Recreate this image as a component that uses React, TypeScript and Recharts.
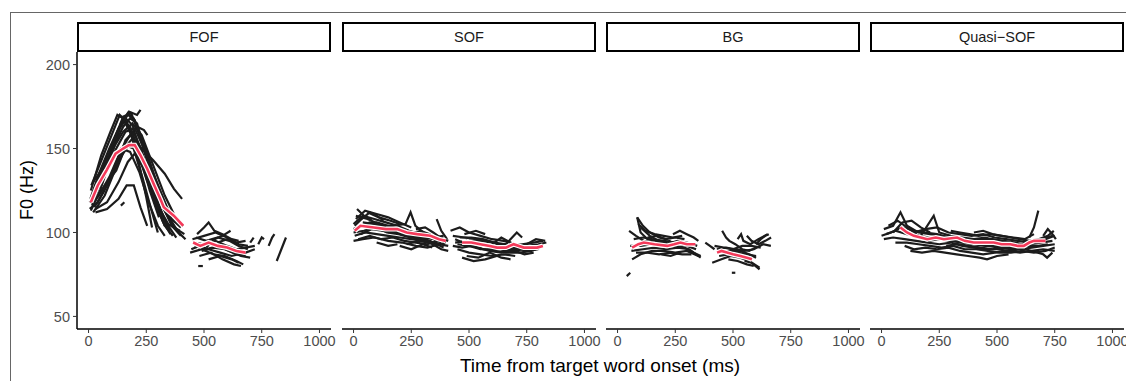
import React from 'react';
import { LineChart, Line, XAxis, YAxis } from 'recharts';

type Pt = [number, number];

// individual F0 contours, [time ms, F0 Hz]
const FOF_LINES: Pt[][] = [
  [[10, 113], [50, 125], [100, 146], [140, 164], [170, 171], [200, 167], [240, 150], [290, 128], [340, 111], [390, 100], [420, 96]],
  [[15, 116], [60, 133], [110, 155], [150, 169], [185, 171], [215, 160], [260, 140], [310, 119], [360, 104], [400, 98]],
  [[20, 112], [70, 122], [120, 139], [160, 155], [195, 160], [230, 149], [270, 130], [320, 111], [350, 101]],
  [[8, 120], [45, 135], [90, 150], [130, 162], [160, 168], [190, 164], [230, 146], [280, 124], [330, 107], [380, 97]],
  [[12, 128], [50, 141], [100, 158], [135, 170], [165, 166], [205, 151], [250, 132], [300, 114], [330, 104]],
  [[30, 114], [80, 118], [130, 130], [170, 142], [200, 147], [240, 138], [280, 122], [320, 107], [355, 99]],
  [[25, 118], [75, 129], [120, 137], [160, 151], [190, 156], [225, 145], [265, 125], [305, 109]],
  [[10, 125], [55, 146], [95, 160], [125, 170], [150, 168], [185, 158], [220, 140], [250, 121], [275, 103]],
  [[40, 121], [90, 133], [140, 149], [180, 158], [210, 163], [240, 161], [255, 158]],
  [[30, 112], [80, 114], [130, 120], [165, 128], [196, 128], [225, 115], [254, 104]],
  [[180, 158], [230, 150], [280, 143], [330, 135], [370, 126], [405, 120]],
  [[30, 128], [70, 142], [110, 151], [150, 160], [190, 165], [230, 158], [280, 140], [330, 122], [380, 108], [410, 104]],
  [[5, 118], [40, 126], [80, 138], [120, 150], [160, 160], [200, 162], [240, 150], [290, 132], [340, 115], [375, 106]],
  [[60, 130], [100, 148], [140, 165], [175, 172], [210, 170], [225, 173]],
  [[20, 130], [60, 138], [100, 145], [140, 150], [180, 148], [220, 136], [260, 118], [300, 104], [330, 98]],
  [[15, 122], [50, 133], [90, 147], [125, 160], [155, 166], [180, 163], [215, 150], [255, 133], [300, 116], [345, 105], [395, 101]],
  [[25, 115], [65, 124], [105, 135], [145, 146], [175, 152], [205, 150], [245, 136], [290, 118], [330, 104], [365, 98]],
  [[35, 124], [75, 136], [115, 153], [150, 163], [180, 168], [210, 165], [245, 148], [285, 130], [325, 114], [370, 103], [415, 99]],
  [[5, 114], [40, 118], [85, 130], [125, 143], [160, 152], [195, 150], [235, 132], [275, 112], [300, 100]],
  [[45, 130], [85, 145], [120, 158], [150, 166], [170, 170], [195, 168], [235, 155], [275, 138], [320, 118], [360, 108], [400, 103]],
  [[140, 116], [155, 118]],
  [[450, 96], [500, 98], [550, 100], [600, 97], [650, 93], [690, 92]],
  [[460, 92], [510, 90], [560, 92], [610, 89], [660, 86], [700, 85]],
  [[440, 88], [490, 90], [540, 87], [590, 86], [640, 83], [670, 81]],
  [[470, 99], [500, 103], [520, 106], [545, 101], [580, 99], [620, 96], [650, 95]],
  [[455, 94], [500, 93], [550, 95], [600, 92], [640, 90], [680, 91], [720, 92]],
  [[480, 86], [530, 88], [580, 84], [630, 81], [660, 80]],
  [[510, 91], [545, 96], [580, 98], [615, 101]],
  [[445, 90], [480, 92], [520, 90], [570, 88], [620, 86], [680, 88], [720, 90]],
  [[560, 94], [600, 96], [640, 94], [680, 95]],
  [[465, 97], [510, 95], [560, 97], [610, 95], [650, 92], [690, 90]],
  [[490, 89], [540, 91], [590, 90], [640, 87], [680, 86]],
  [[520, 84], [570, 86], [620, 84], [650, 82]],
  [[700, 94], [715, 97]],
  [[735, 93], [750, 97], [760, 96]],
  [[780, 92], [795, 97], [805, 99]],
  [[815, 83], [835, 90], [855, 97]],
  [[475, 80], [495, 80]],
];
const FOF_MEAN: Pt[][] = [
  [[10, 118], [40, 128], [78, 137], [117, 147], [150, 150], [175, 152], [200, 152], [225, 146], [254, 138], [285, 128], [311, 120], [326, 115], [369, 110], [410, 104]],
  [[453, 94], [484, 92], [520, 94], [560, 92], [600, 91], [640, 89], [680, 88]],
];

const SOF_LINES: Pt[][] = [
  [[0, 105], [40, 110], [90, 108], [140, 106], [190, 104], [240, 101], [290, 99], [330, 97], [380, 94]],
  [[5, 98], [50, 100], [100, 99], [150, 98], [200, 97], [250, 96], [300, 95], [350, 93]],
  [[10, 108], [50, 113], [100, 111], [150, 109], [200, 106], [250, 103]],
  [[0, 95], [40, 96], [90, 97], [150, 95], [210, 94], [270, 92], [320, 91], [370, 93], [410, 92]],
  [[20, 103], [70, 106], [120, 104], [170, 104], [225, 105], [247, 112], [268, 104], [320, 98], [370, 97]],
  [[30, 99], [80, 102], [130, 101], [180, 100], [230, 98], [280, 97], [330, 95], [390, 91]],
  [[60, 112], [110, 109], [160, 107], [200, 105]],
  [[200, 92], [250, 90], [300, 93], [340, 91]],
  [[360, 108], [380, 101], [405, 96]],
  [[100, 94], [150, 92], [190, 93]],
  [[15, 114], [45, 110], [80, 107]],
  [[270, 102], [310, 103], [345, 100], [375, 97], [410, 95]],
  [[0, 102], [50, 105], [100, 106], [150, 104], [200, 102], [250, 99], [300, 97], [350, 96], [400, 94]],
  [[10, 110], [60, 108], [110, 105], [160, 103], [210, 102], [260, 100], [310, 99], [360, 97]],
  [[0, 100], [45, 101], [95, 103], [145, 100], [195, 99], [245, 97], [295, 96], [345, 94], [395, 93]],
  [[20, 96], [70, 98], [120, 96], [170, 97], [220, 95], [270, 94], [320, 93], [365, 95]],
  [[40, 106], [90, 105], [140, 103], [190, 100], [240, 99], [290, 101], [330, 99], [370, 95]],
  [[5, 104], [35, 108], [70, 112], [100, 110], [130, 107]],
  [[150, 100], [200, 101], [250, 98], [300, 96], [340, 97], [390, 98]],
  [[230, 93], [280, 95], [330, 94], [380, 90], [410, 89]],
  [[420, 101], [460, 103], [500, 100], [550, 98], [600, 96], [650, 95], [700, 93], [750, 92], [800, 93], [835, 94]],
  [[440, 94], [490, 95], [540, 93], [590, 92], [640, 90], [690, 89], [740, 90], [790, 90]],
  [[450, 90], [500, 88], [550, 87], [600, 86], [650, 87], [700, 86]],
  [[470, 85], [520, 83], [570, 84], [620, 86]],
  [[460, 97], [510, 97], [560, 96], [610, 94], [660, 93], [707, 100], [730, 97]],
  [[430, 92], [470, 91], [510, 92], [560, 90], [610, 89], [660, 88], [720, 88], [770, 89], [810, 91]],
  [[600, 93], [640, 97], [680, 94], [720, 92], [760, 91], [800, 92]],
  [[480, 99], [530, 101], [570, 99]],
  [[430, 98], [480, 97], [530, 96], [580, 95], [630, 93], [680, 92], [730, 93], [780, 94], [820, 95]],
  [[450, 93], [500, 92], [550, 90], [600, 90], [650, 90], [700, 91], [750, 89], [800, 90]],
  [[440, 96], [490, 93], [540, 91], [590, 89], [640, 88], [690, 90], [740, 92]],
  [[500, 95], [550, 95], [600, 94], [650, 92], [700, 90], [750, 93], [790, 96], [830, 95]],
  [[490, 86], [540, 85], [590, 88], [640, 85], [680, 84]],
  [[620, 91], [660, 89], [700, 89], [740, 87], [780, 88]],
];
const SOF_MEAN: Pt[][] = [
  [[5, 101], [30, 104], [88, 103], [140, 102], [189, 102], [230, 100], [275, 99], [333, 98], [370, 96], [400, 95]],
  [[470, 94], [510, 94], [549, 93], [590, 92], [621, 91], [660, 91], [693, 93], [737, 91], [795, 91], [820, 92]],
];

const BG_LINES: Pt[][] = [
  [[50, 101], [80, 98], [114, 95], [160, 94], [210, 93], [260, 95], [300, 94], [345, 92]],
  [[85, 109], [110, 104], [140, 100], [180, 97], [210, 96]],
  [[85, 109], [100, 100], [130, 96], [170, 95], [215, 94]],
  [[63, 84], [100, 87], [150, 89], [200, 89], [250, 88], [300, 89], [350, 86]],
  [[60, 89], [110, 90], [160, 91], [210, 90], [260, 91], [310, 90], [360, 85]],
  [[240, 99], [270, 101], [300, 99], [330, 97], [350, 95]],
  [[130, 97], [170, 98], [210, 96], [250, 97], [290, 96]],
  [[70, 96], [110, 97], [150, 96], [200, 95], [250, 94], [300, 92], [340, 90]],
  [[90, 105], [120, 101], [160, 99], [200, 98], [240, 97], [280, 98]],
  [[55, 92], [100, 92], [150, 93], [200, 92], [250, 92], [290, 91], [330, 88], [360, 86]],
  [[80, 88], [130, 88], [180, 87], [230, 88], [280, 87], [320, 87]],
  [[100, 103], [140, 98], [190, 94], [230, 95]],
  [[40, 74], [55, 76]],
  [[190, 87], [230, 86], [270, 88]],
  [[380, 94], [400, 92], [420, 90]],
  [[453, 101], [470, 97], [484, 95], [510, 93], [540, 90], [570, 89], [600, 91]],
  [[410, 82], [450, 84], [490, 86], [530, 85], [570, 83], [615, 79]],
  [[430, 90], [470, 91], [510, 90], [550, 89], [590, 90], [630, 93], [664, 92]],
  [[520, 96], [535, 99], [545, 95], [575, 93], [610, 96], [650, 99]],
  [[550, 83], [580, 82], [615, 78]],
  [[420, 92], [460, 91], [500, 90], [540, 92], [580, 92], [620, 91]],
  [[450, 88], [490, 89], [530, 89], [570, 87], [600, 85]],
  [[480, 84], [520, 83], [560, 81], [590, 80]],
  [[560, 98], [580, 95], [610, 93], [640, 95], [665, 97]],
  [[495, 76], [510, 76]],
  [[440, 86], [480, 87], [520, 88], [560, 87], [600, 86]],
  [[600, 93], [620, 96], [640, 98], [655, 99]],
];
const BG_MEAN: Pt[][] = [
  [[63, 91], [90, 93], [114, 94], [160, 93], [215, 92], [245, 93], [272, 94], [300, 93], [337, 93]],
  [[431, 88], [450, 89], [474, 88], [500, 87], [532, 86], [560, 85], [582, 84]],
];

const QSOF_LINES: Pt[][] = [
  [[10, 102], [50, 104], [82, 112], [110, 104], [160, 100], [210, 99], [260, 98], [310, 97], [360, 96], [410, 95], [460, 94], [510, 93], [560, 92], [610, 93], [660, 95], [710, 96], [750, 98]],
  [[10, 96], [50, 97], [100, 96], [150, 95], [200, 94], [250, 93], [300, 94], [350, 92], [400, 91], [450, 90], [500, 90], [550, 89], [600, 90], [650, 91], [700, 92], [750, 93]],
  [[20, 99], [60, 101], [110, 99], [170, 98], [226, 110], [250, 100], [300, 98], [350, 97], [400, 96], [450, 97], [500, 95], [550, 94]],
  [[100, 92], [140, 90], [190, 91], [240, 90], [290, 91], [340, 89], [390, 88], [440, 87], [490, 88], [540, 89], [600, 88], [650, 89], [700, 90], [750, 89]],
  [[125, 89], [175, 88], [225, 89], [275, 88], [325, 87], [375, 86], [425, 85], [457, 84], [500, 86], [550, 87]],
  [[300, 101], [340, 100], [380, 99], [420, 98], [470, 99], [520, 98], [570, 97], [620, 96], [660, 99]],
  [[640, 97], [660, 103], [679, 113]],
  [[400, 100], [440, 101], [480, 99], [520, 98], [560, 97], [600, 96], [640, 95], [680, 96], [720, 98], [746, 101]],
  [[600, 91], [650, 89], [700, 87], [717, 85], [740, 88]],
  [[50, 100], [90, 106], [130, 107], [170, 103], [210, 100]],
  [[700, 98], [720, 102], [740, 99], [755, 96]],
  [[0, 98], [40, 100], [90, 103], [140, 101], [190, 100], [240, 99], [290, 97], [340, 96], [390, 95], [440, 94], [490, 93], [540, 91], [590, 92], [640, 93], [690, 94], [740, 95]],
  [[30, 104], [70, 107], [110, 103], [160, 98], [210, 97], [260, 96], [310, 95], [360, 94], [410, 93], [460, 92], [510, 91], [560, 90], [610, 90]],
  [[60, 94], [110, 94], [160, 93], [210, 92], [260, 91], [310, 92], [360, 90], [410, 90], [460, 89], [510, 88], [560, 88], [610, 89], [660, 88], [710, 89], [750, 91]],
  [[140, 100], [190, 102], [240, 103], [290, 100], [340, 99], [390, 98], [440, 99], [490, 97], [540, 96], [590, 95], [640, 94], [690, 96], [740, 98]],
  [[200, 95], [250, 96], [300, 95], [350, 94], [400, 93], [450, 92], [500, 92], [550, 91], [600, 91]],
  [[380, 94], [430, 96], [480, 96], [530, 95], [580, 94], [630, 92], [680, 92], [720, 93]],
  [[280, 92], [330, 93], [380, 92], [430, 91], [480, 90], [530, 91], [580, 90]],
];
const QSOF_MEAN: Pt[][] = [
  [[82, 103], [110, 100], [140, 98], [198, 96], [235, 97], [270, 96], [327, 97], [360, 95], [399, 94], [440, 94], [486, 94], [520, 93], [558, 93], [590, 92], [616, 92], [640, 94], [660, 95], [710, 95]],
];

const PANELS = [
  { label: 'FOF', lines: FOF_LINES, mean: FOF_MEAN },
  { label: 'SOF', lines: SOF_LINES, mean: SOF_MEAN },
  { label: 'BG', lines: BG_LINES, mean: BG_MEAN },
  { label: 'Quasi\u2212SOF', lines: QSOF_LINES, mean: QSOF_MEAN },
];
const PANEL_LEFT = [77, 342, 606, 870];
const X_TICKS = [0, 250, 500, 750, 1000];
const Y_TICKS = [50, 100, 150, 200];

const PANEL_W = 254;
const PANEL_TOP = 52;
const PLOT_H = 277;
const Y_AXIS_W = 40;
const RIGHT_PAD = 24;
const FONT = '"Liberation Sans", Arial, sans-serif';
const TICK_STYLE = { fill: '#4d4d4d', fontSize: 14.5, fontFamily: FONT };

const toData = (c: Pt[]) => c.map(([t, hz]) => ({ t, hz }));

const Facet = ({ lines, mean, showY }: { lines: Pt[][]; mean: Pt[][]; showY: boolean }) => (
  <LineChart
    width={PANEL_W + RIGHT_PAD + (showY ? Y_AXIS_W : 0)}
    height={PLOT_H + 34}
    margin={{ top: 0, right: RIGHT_PAD, bottom: 0, left: 0 }}
  >
    <XAxis
      type="number"
      dataKey="t"
      domain={[-50, 1050]}
      ticks={X_TICKS}
      interval={0}
      height={34}
      tickSize={4}
      tickMargin={3}
      tick={TICK_STYLE}
      tickLine={{ stroke: '#333' }}
      axisLine={{ stroke: '#000', strokeWidth: 1.5 }}
      allowDataOverflow
    />
    <YAxis
      type="number"
      dataKey="hz"
      domain={[42.5, 207.5]}
      ticks={Y_TICKS}
      interval={0}
      hide={!showY}
      width={Y_AXIS_W}
      tickSize={4}
      tickMargin={3}
      tick={TICK_STYLE}
      tickLine={{ stroke: '#333' }}
      axisLine={{ stroke: '#000', strokeWidth: 1.5 }}
      allowDataOverflow
    />
    {lines.map((c, i) => (
      <Line key={'l' + i} data={toData(c)} dataKey="hz" type="linear" stroke="#1c1c1c" strokeWidth={2.2}
        dot={false} activeDot={false} isAnimationActive={false} />
    ))}
    {mean.map((c, i) => (
      <Line key={'w' + i} data={toData(c)} dataKey="hz" type="linear" stroke="#ffffff" strokeWidth={5}
        dot={false} activeDot={false} isAnimationActive={false} />
    ))}
    {mean.map((c, i) => (
      <Line key={'m' + i} data={toData(c)} dataKey="hz" type="linear" stroke="#f43a5a" strokeWidth={2.6}
        dot={false} activeDot={false} isAnimationActive={false} />
    ))}
  </LineChart>
);

export default function App() {
  return (
    <div style={{ position: 'absolute', left: 0, top: 0, width: 1126, height: 381, background: '#fff', overflow: 'hidden', fontFamily: FONT }}>
      <div style={{ position: 'absolute', left: 10, top: 12, width: 1200, height: 400, borderLeft: '1px solid #666', borderTop: '1px solid #666' }} />
      {PANELS.map((p, i) => (
        <div key={p.label} style={{ position: 'absolute', left: PANEL_LEFT[i] - (i === 0 ? Y_AXIS_W : 0), top: PANEL_TOP }}>
          <Facet lines={p.lines} mean={p.mean} showY={i === 0} />
        </div>
      ))}
      {PANELS.map((p, i) => (
        <div key={'s' + p.label} style={{
          position: 'absolute', left: PANEL_LEFT[i], top: 22, width: PANEL_W, height: 30, boxSizing: 'border-box',
          border: '2px solid #000', display: 'flex', alignItems: 'center', justifyContent: 'center', fontSize: 14.5, color: '#1a1a1a',
        }}>{p.label}</div>
      ))}
      <div style={{ position: 'absolute', left: 27, top: 190, transform: 'translate(-50%, -50%) rotate(-90deg)', fontSize: 18, color: '#000', whiteSpace: 'nowrap' }}>F0 (Hz)</div>
      <div style={{ position: 'absolute', left: 600, top: 366, transform: 'translate(-50%, -50%)', fontSize: 19, color: '#000', whiteSpace: 'nowrap' }}>Time from target word onset (ms)</div>
    </div>
  );
}
